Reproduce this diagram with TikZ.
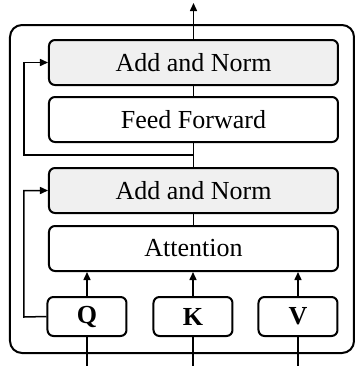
\documentclass[tikz,border=0pt]{standalone}
\usepackage{fontspec}
\setmainfont{Liberation Serif}
\usepackage{tikz}
\usetikzlibrary{arrows.meta,positioning}

\definecolor{normgray}{RGB}{240,240,240}

\begin{document}
\begin{tikzpicture}[x=0.5pt,y=-0.5pt,>={Triangle[length=4pt,width=3.5pt]},line width=0.75pt]
\tikzstyle{layer} = [draw=black,line width=1pt,rounded corners=3pt,minimum width=144.5pt,minimum height=22.5pt,inner sep=0pt,font=\fontsize{13}{15}\selectfont]
\tikzstyle{addnorm} = [layer,fill=normgray]
\tikzstyle{qkv} = [draw=black,line width=1pt,rounded corners=3pt,minimum width=39.5pt,minimum height=19.5pt,inner sep=0pt,font=\fontsize{13}{15}\selectfont\bfseries]
    \useasboundingbox (0,0) rectangle (355,366);
    \draw[line width=1pt,rounded corners=6pt] (10,25) rectangle (354,353);

    \node[addnorm] (norm2) at (193.5,62.5) {Add and Norm};
    \node[layer] (ffn) at (193.5,119.5) {Feed Forward};
    \node[addnorm] (norm1) at (193.5,190.5) {Add and Norm};
    \node[layer] (attn) at (193.5,248.5) {Attention};
    \node[qkv] (q) at (87,316.5) {Q};
    \node[qkv] (k) at (193,316.5) {K};
    \node[qkv] (v) at (298,316.5) {V};

    \coordinate (out) at (193.5,3);
    \coordinate (skipq) at (24,317);
    \coordinate (branch) at (193.5,155);
    \coordinate (skipf) at (24,155);

    \tikzset{flow/.style={->}}
    \draw (norm2) edge [flow] (out);
    \draw (norm2) -- (ffn);
    \draw (ffn) -- (norm1);
    \draw (norm1) -- (attn);
    \draw[flow] (q.north) -- (q.north |- attn.south);
    \draw[flow] (k.north) -- (k.north |- attn.south);
    \draw[flow] (v.north) -- (v.north |- attn.south);
    \draw (q.south) -- (q.south |- 0,366);
    \draw (k.south) -- (k.south |- 0,366);
    \draw (v.south) -- (v.south |- 0,366);
    \draw[flow] (q.west) -- (skipq) |- (norm1.west);
    \draw[flow] (branch) -- (skipf) |- (norm2.west);

\end{tikzpicture}
\end{document}
